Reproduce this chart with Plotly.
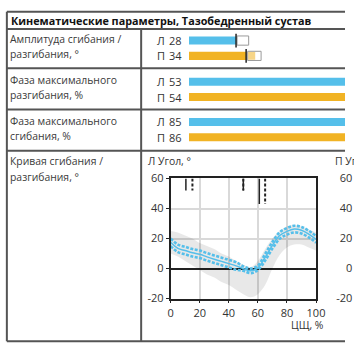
import plotly.graph_objects as go

W = H = 354

# ---------------- data ----------------
title_text = "Кинематические параметры, Тазобедренный сустав"
row_labels = [
    ["Амплитуда сгибания /", "разгибания, °"],
    ["Фаза максимального", "разгибания, %"],
    ["Фаза максимального", "сгибания, %"],
    ["Кривая сгибания /", "разгибания, °"],
]
sides = ["Л", "П"]
amp_values = [28, 34]
ext_phase_values = [53, 54]
flex_phase_values = [85, 86]
amp_box_lo = [28.6, 34.9]
amp_box_hi = [35.5, 42.9]

cycle_pct = [0, 5, 10, 15, 20, 25, 30, 35, 40, 45, 50, 55, 60, 65, 70, 75, 80, 85, 90, 95, 100]
left_mean = [17.5, 13.5, 12, 10.5, 9.5, 7.8, 6.2, 4.8, 3.3, 1.8, 0, -1.5, 0.5, 7.5, 15.5, 22, 24.8, 26.3, 25.5, 23, 19.5]
left_upper = [20, 16, 14.5, 13, 12, 10.3, 8.7, 7.3, 5.8, 4.3, 1.5, 0, 2, 9.7, 17.7, 24.2, 27, 28.5, 27.7, 25.2, 21.7]
left_lower = [15, 11, 9.5, 8, 7, 5.3, 3.7, 2.3, 0.8, -0.7, -1.5, -3, -1, 5.3, 13.3, 19.8, 22.6, 24.1, 23.3, 20.8, 17.3]
norm_upper = [25, 24, 22, 20, 17, 15, 13, 10, 8, 5, 2.5, 1, 5, 13, 20, 25, 28, 29, 28, 26, 24]
norm_lower = [10, 8, 5, 2, -1, -4, -6, -9, -11, -14, -17, -19, -17, -11, 0, 9, 14, 16, 16, 14, 12]

events_solid = [10.5, 50, 61]
events_dashed = [15, 50, 65]
events_bottom = [52, 52, 43]

y_ticks = [-20, 0, 20, 40, 60]
x_ticks = [0, 20, 40, 60, 80, 100]

BLUE = "#55bfea"
ORANGE = "#f1b324"
FONT = "Open Sans"
TXT = "#333333"


def px_x(x):
    return x / W


def px_y(y):
    return 1 - y / H


fig = go.Figure()

# ---------- bar rows ----------
bar_rows = [
    (amp_values, "x", "y", (26, 58), 92.8),
    (ext_phase_values, "x2", "y2", (69, 101), 50),
    (flex_phase_values, "x3", "y3", (111, 143), 50),
]
annotations = []
shapes = []
for i, (vals, xa, ya, (ytop, ybot), xmax) in enumerate(bar_rows):
    fig.add_trace(go.Bar(
        x=vals, y=sides, orientation="h", xaxis=xa, yaxis=ya,
        marker=dict(color=[BLUE, ORANGE], line=dict(width=0)),
        hoverinfo="skip", showlegend=False,
    ))
    n = "" if i == 0 else str(i + 1)
    fig.layout["xaxis" + n] = dict(domain=[px_x(192.5), 1], range=[0, xmax], visible=False,
                                   anchor=ya)
    fig.layout["yaxis" + n] = dict(domain=[px_y(ybot), px_y(ytop)], range=[1.5, -0.5],
                                   visible=False, anchor=xa, type="category")
    yc = [ytop + 8, ytop + 24]
    for k, s in enumerate(sides):
        annotations.append(dict(x=px_x(157), y=px_y(yc[k]), xref="paper", yref="paper",
                                text=s, showarrow=False, xanchor="left", yanchor="middle",
                                font=dict(size=11, color=TXT, family=FONT)))
        annotations.append(dict(x=px_x(170), y=px_y(yc[k]), xref="paper", yref="paper",
                                text=str(vals[k]), showarrow=False, xanchor="left", yanchor="middle",
                                font=dict(size=11, color=TXT, family=FONT)))

# amplitude markers: black line at value and rounded box
for k in range(2):
    v = amp_values[k]
    lo, hi = amp_box_lo[k], amp_box_hi[k]
    shapes.append(dict(type="rect", xref="x", yref="y", x0=lo, x1=hi, y0=k - 0.3, y1=k + 0.3,
                       fillcolor="white", line=dict(color="#9a9a9a", width=1), layer="above"))
    if k == 1:
        shapes.append(dict(type="rect", xref="x", yref="y", x0=lo + 0.3, x1=(lo + hi) / 2 + 0.5,
                           y0=k - 0.26, y1=k + 0.26, fillcolor=ORANGE, opacity=0.55,
                           line=dict(width=0), layer="above"))
    shapes.append(dict(type="line", xref="x", yref="y", x0=v, x1=v, y0=k - 0.45, y1=k + 0.45,
                       line=dict(color="#222222", width=1.5), layer="above"))

# ---------- curve plot ----------
fig.add_trace(go.Scatter(x=cycle_pct, y=norm_upper, mode="lines", line=dict(width=0, shape="spline"),
                         xaxis="x4", yaxis="y4", hoverinfo="skip", showlegend=False))
fig.add_trace(go.Scatter(x=cycle_pct, y=norm_lower, mode="lines", line=dict(width=0, shape="spline"),
                         fill="tonexty", fillcolor="rgba(0,0,0,0.09)",
                         xaxis="x4", yaxis="y4", hoverinfo="skip", showlegend=False))

ex, ey = [], []
for xs, yb in zip(events_solid, events_bottom):
    ex += [xs, xs, None]
    ey += [60, yb, None]
fig.add_trace(go.Scatter(x=ex, y=ey, mode="lines", line=dict(color="#222222", width=1.5),
                         xaxis="x4", yaxis="y4", hoverinfo="skip", showlegend=False))
dx, dy = [], []
for xs, yb in zip(events_dashed, events_bottom):
    dx += [xs, xs, None]
    dy += [60, yb, None]
fig.add_trace(go.Scatter(x=dx, y=dy, mode="lines", line=dict(color="#222222", width=2, dash="3px,2px"),
                         xaxis="x4", yaxis="y4", hoverinfo="skip", showlegend=False))

for series in (left_upper, left_lower):
    fig.add_trace(go.Scatter(x=cycle_pct, y=series, mode="lines",
                             line=dict(color=BLUE, width=2.6, dash="3px,1.5px", shape="spline"),
                             xaxis="x4", yaxis="y4", hoverinfo="skip", showlegend=False))
fig.add_trace(go.Scatter(x=cycle_pct, y=left_mean, mode="lines",
                         line=dict(color=BLUE, width=1.5, shape="spline"),
                         xaxis="x4", yaxis="y4", hoverinfo="skip", showlegend=False))

axis_font = dict(size=11, color=TXT, family=FONT)
y_ticktext = [str(v) for v in y_ticks]
fig.layout.xaxis4 = dict(domain=[px_x(173.5), px_x(324)], range=[0, 100], tickvals=x_ticks,
                         ticktext=[str(v) for v in x_ticks],
                         anchor="y4", showgrid=True, gridcolor="#d9d9d9", gridwidth=1.5,
                         showline=True, linecolor="#222222", linewidth=1.5, mirror=True,
                         ticks="outside", ticklen=3, tickcolor="#222222", zeroline=False,
                         tickfont=axis_font)
fig.layout.yaxis4 = dict(domain=[px_y(303.5), px_y(178)], range=[-20, 60], tickvals=y_ticks,
                         ticktext=y_ticktext,
                         anchor="x4", showgrid=True, gridcolor="#d9d9d9", gridwidth=1.5,
                         showline=True, linecolor="#222222", linewidth=1.5, mirror=True,
                         ticks="outside", ticklen=3, tickcolor="#222222",
                         zeroline=True, zerolinecolor="#222222", zerolinewidth=1.5,
                         tickfont=axis_font)

# right (П) plot, almost entirely outside the view: only its tick labels show
fig.add_trace(go.Scatter(x=[None], y=[None], xaxis="x5", yaxis="y5", showlegend=False))
fig.layout.xaxis5 = dict(domain=[0.998, 1], visible=False, anchor="y5", range=[0, 100])
fig.layout.yaxis5 = dict(domain=[px_y(303.5), px_y(178)], range=[-20, 60], tickvals=y_ticks,
                         ticktext=y_ticktext,
                         anchor="x5", side="left", showgrid=False, zeroline=False, showline=False,
                         ticks="", ticklabelstandoff=-9, tickfont=axis_font)

# ---------- table text ----------
annotations.append(dict(x=px_x(6), y=px_y(13.5), xref="paper", yref="paper", text="<b>" + title_text + "</b>",
                        showarrow=False, xanchor="left", yanchor="middle",
                        font=dict(size=10.8, color="#111111", family=FONT)))
row_text_y = [(32, 48), (75, 91), (118, 134), (160, 176)]
for (l1, l2), (y1, y2) in zip(row_labels, row_text_y):
    for t, yy in ((l1, y1), (l2, y2)):
        annotations.append(dict(x=px_x(5.5), y=px_y(yy), xref="paper", yref="paper", text=t,
                                showarrow=False, xanchor="left", yanchor="middle",
                                font=dict(size=10.4, color="#3a3a3a", family=FONT)))
annotations.append(dict(x=px_x(148), y=px_y(160), xref="paper", yref="paper", text="Л Угол, °",
                        showarrow=False, xanchor="left", yanchor="middle",
                        font=dict(size=10.4, color=TXT, family=FONT)))
annotations.append(dict(x=px_x(342), y=px_y(160), xref="paper", yref="paper", text="П Угол, °",
                        showarrow=False, xanchor="left", yanchor="middle",
                        font=dict(size=10.4, color=TXT, family=FONT)))
annotations.append(dict(x=px_x(334), y=px_y(331), xref="paper", yref="paper", text="ЦЩ, %",
                        showarrow=False, xanchor="right", yanchor="middle",
                        font=dict(size=10.4, color=TXT, family=FONT)))

# ---------- table lines ----------
LC = "#555555"
for yy in (4, 22, 63, 106, 149, 348):
    shapes.append(dict(type="line", xref="paper", yref="paper", x0=px_x(4), x1=1,
                       y0=px_y(yy), y1=px_y(yy), line=dict(color=LC, width=2)))
shapes.append(dict(type="line", xref="paper", yref="paper", x0=px_x(4), x1=px_x(4),
                   y0=px_y(4), y1=px_y(348), line=dict(color=LC, width=2)))
shapes.append(dict(type="line", xref="paper", yref="paper", x0=px_x(143), x1=px_x(143),
                   y0=px_y(22), y1=px_y(348), line=dict(color=LC, width=2)))

fig.update_layout(
    width=W, height=H, margin=dict(l=0, r=0, t=0, b=0),
    paper_bgcolor="white", plot_bgcolor="white",
    bargap=0.47, showlegend=False, hovermode=False,
    annotations=annotations, shapes=shapes,
    font=dict(family=FONT, color=TXT),
)

fig.write_html("out.html", config={"displayModeBar": False})
